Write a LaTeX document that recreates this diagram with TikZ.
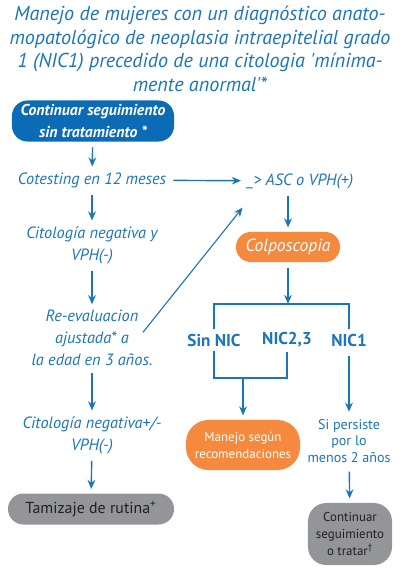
\documentclass[tikz,border=0pt]{standalone}
\usepackage{fontspec}
\setmainfont{PT Sans}
\usetikzlibrary{positioning,arrows.meta}
\definecolor{azul}{HTML}{1B75BC}
\definecolor{azulcaja}{HTML}{0B6BB5}
\definecolor{naranja}{HTML}{F58A3E}
\definecolor{gris}{HTML}{939598}
\definecolor{oscuro}{HTML}{231F20}
\begin{document}
\begin{tikzpicture}[x=0.025cm,y=-0.025cm,
  titulo/.style={font=\fontsize{14.3}{16.9}\selectfont\itshape, text=azul, align=center, inner sep=0pt},
  paso/.style={font=\fontsize{11.6}{15.6}\selectfont\itshape, text=azul, align=center, inner sep=1pt},
  rama/.style={font=\fontsize{12.2}{13}\selectfont\bfseries, text=azul, inner sep=3pt},
  nota/.style={font=\fontsize{10}{12}\selectfont, text=azul, align=center, inner sep=2pt},
  cajaazul/.style={fill=azulcaja, text=white, font=\fontsize{11.2}{15}\selectfont\bfseries\itshape,
    rounded corners=11pt, align=center, minimum width=4.05cm, minimum height=1.025cm, inner sep=0pt},
  cajanaranja/.style={fill=naranja, text=white, align=center, inner sep=0pt},
  cajagris/.style={fill=gris, text=oscuro, align=center, inner sep=0pt},
  flecha/.style={draw=azul, line width=1pt, -{Stealth[length=6.5pt,width=5.5pt]}, shorten <=4pt, shorten >=3pt},
  linea/.style={draw=azul, line width=0.8pt}
]
\useasboundingbox (0,0) rectangle (400,569);

% Titulo
\node[titulo] (tit) at (200,49) {Manejo de mujeres con un diagnóstico anato-\\mopatológico de neoplasia intraepitelial grado\\1 (NIC1) precedido de una citologia \textquotesingle mínima-\\mente anormal\textquotesingle*};

% Columna izquierda
\node[cajaazul] (inicio) at (93,121) {Continuar seguimiento\\sin tratamiento *};
\node[paso] (cotest) at (92,180) {Cotesting en 12 meses};
\node[paso] (citneg) at (92,245) {Citología negativa y\\VPH(-)};
\node[paso] (reeval) at (92,338) {Re-evaluacion\\ajustada* a\\la edad en 3 años.};
\node[paso] (citneg2) at (92,435) {Citología negativa+/-\\VPH(-)};
\node[cajagris, rounded corners=11pt, minimum width=4.15cm, minimum height=0.775cm,
  font=\fontsize{11.3}{13}\selectfont] (tamiz) at (91,509) {Tamizaje de rutina\textsuperscript{+}};

% Columna derecha
\node[paso] (asc) at (300,181) {\_> ASC o VPH(+)};
\node[cajanaranja, rounded corners=10.5pt, minimum width=2.6cm, minimum height=0.75cm,
  font=\fontsize{12.5}{13}\selectfont\itshape] (colpo) at (288,247) {Colposcopia};
\node[rama] (sinnic) at (214,340) {Sin NIC};
\node[rama] (nic23) at (287,340) {NIC2,3};
\node[rama] (nic1) at (349,340) {NIC1};
\node[cajanaranja, rounded corners=16pt, minimum width=2.85cm, minimum height=1.25cm,
  font=\fontsize{9.2}{12.2}\selectfont] (manejo) at (243,445) {Manejo según\\recomendaciones};
\node[nota] (persiste) at (349,441) {Si persiste\\por lo\\menos 2 años};
\node[cajagris, rounded corners=13pt, minimum width=2.1cm, minimum height=1.55cm,
  font=\fontsize{9.2}{12.2}\selectfont] (contin) at (350,534) {Continuar\\seguimiento\\o tratar\textsuperscript{†}};

\coordinate (divide) at (288,304);
\coordinate (junta) at (243,378);

% Flechas
\draw[flecha] (inicio) -- (cotest);
\draw[flecha] (cotest) -- (citneg);
\draw[flecha] (citneg) -- (reeval);
\draw[flecha] (reeval) -- (citneg2);
\draw[flecha] (citneg2) -- (tamiz);
\draw[flecha] (cotest) -- (asc);
\draw[flecha, line width=0.8pt, shorten <=0pt] ([xshift=-8pt,yshift=4pt]reeval.east) -- ([yshift=-10pt]asc.south west);
\draw[flecha] (asc.south -| colpo.north) -- (colpo.north);
\draw[flecha, shorten >=0pt] (colpo) -- (divide);
\draw[linea] (sinnic.north) |- (divide) -| (nic1.north);
\draw[linea] (sinnic.south) |- (junta) -| (nic23.south);
\draw[flecha, shorten <=0pt] (junta) -- (manejo);
\draw[flecha] (nic1) -- (persiste);
\draw[flecha] (persiste) -- (contin);
\end{tikzpicture}
\end{document}
